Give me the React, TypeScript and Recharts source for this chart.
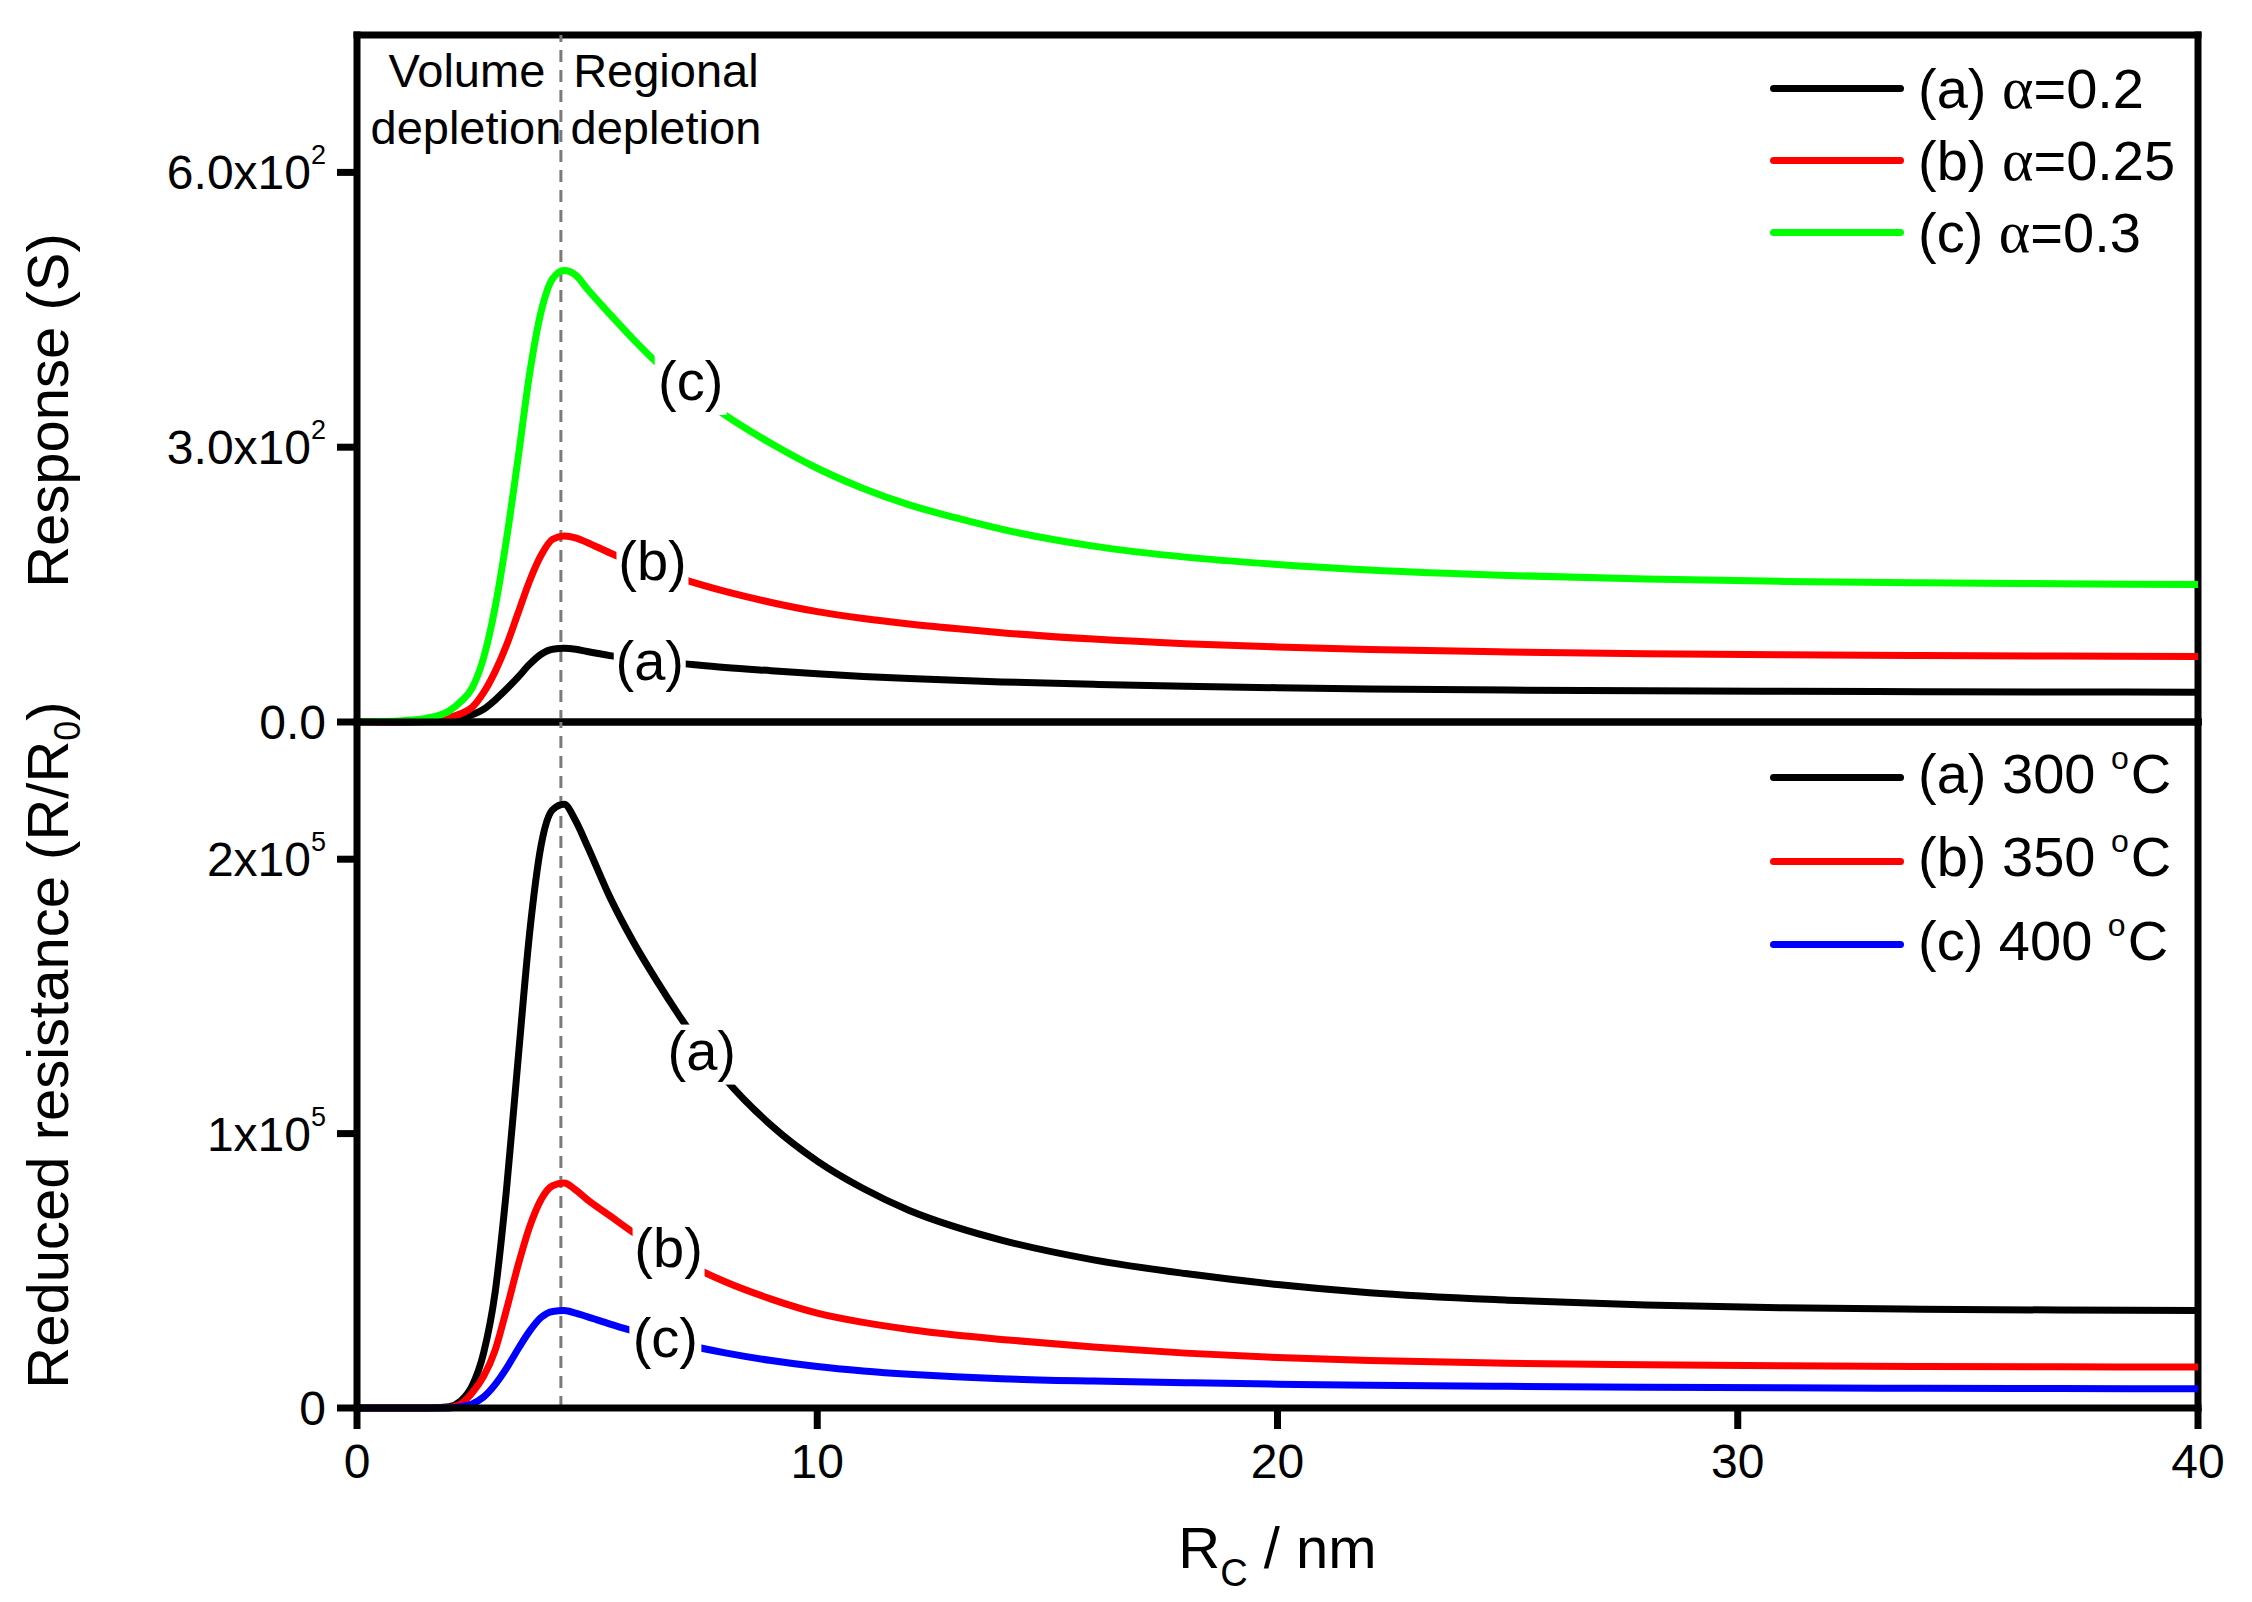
import React from 'react';
import { LineChart, Line, XAxis, YAxis, ReferenceLine, ReferenceDot, Legend } from 'recharts';

const FONT = "'Liberation Sans', Arial, Helvetica, sans-serif";
const SERIF = "'Liberation Serif', 'DejaVu Serif', 'Times New Roman', serif";

// R_C / nm
const rc = [0, 0.5, 1, 1.5, 2, 2.25, 2.5, 2.75, 3, 3.25, 3.5, 3.75, 4, 4.25, 4.5, 4.75, 5, 5.5, 6, 6.5, 7, 8, 9, 10, 11, 12, 13, 14, 16, 18, 20, 22, 25, 28, 31, 34, 37, 40];

// Response (S), top panel
const responseA = [0, 0, 0, 0.5, 1.5, 4, 8, 14, 24, 36, 49, 63, 74, 79.5, 80.5, 79.5, 77, 72.5, 69, 66.3, 64, 59.5, 56, 52.7, 49.8, 47.5, 45.5, 43.8, 41.2, 39, 37.4, 36.1, 34.8, 34, 33.5, 33.1, 32.8, 32.6];
const responseB = [0, 0, 0.5, 1.5, 5, 9, 16, 32, 55, 84, 119, 154, 182, 199.5, 203, 201, 196, 184.5, 174, 165, 157, 142.5, 130.5, 120.5, 113, 107, 102, 97.5, 90.5, 85.5, 82, 79.2, 76.5, 74.6, 73.3, 72.5, 72, 71.6];
const responseC = [0, 0.5, 1.5, 4, 12, 22, 37, 70, 125, 200, 288, 380, 448, 484, 493, 488, 473, 445, 418, 393, 372, 335, 304, 277, 255, 237, 223, 210.5, 192, 180, 172, 166, 160, 156, 153.5, 152, 151, 150];

// Reduced resistance (R/R0), bottom panel
const resistanceA = [0, 0, 0, 0, 500, 2500, 8000, 20000, 42000, 80000, 127000, 173000, 205000, 218000, 220000, 214000, 205000, 186000, 170000, 156000, 143000, 120000, 103000, 90000, 80000, 72000, 66000, 61200, 54000, 49000, 45000, 42000, 39300, 37500, 36500, 36000, 35700, 35500];
const resistanceB = [0, 0, 0, 0, 200, 1500, 5500, 11500, 21000, 36000, 52000, 66000, 76000, 81000, 82000, 79500, 76000, 70000, 64000, 58700, 54000, 46000, 39700, 34600, 31200, 28600, 26600, 25000, 22200, 20000, 18400, 17300, 16300, 15800, 15400, 15150, 15000, 14900];
const resistanceC = [0, 0, 0, 0, 0, 500, 1500, 4000, 8500, 14500, 21500, 28000, 33000, 35200, 35500, 34600, 33300, 30600, 28100, 25700, 23600, 20100, 17300, 15100, 13500, 12300, 11400, 10700, 9800, 9200, 8700, 8300, 7900, 7600, 7350, 7200, 7100, 7000];

const responseNames = ['(a) α=0.2', '(b) α=0.25', '(c) α=0.3'];
const resistanceNames = ['(a) 300 °C', '(b) 350 °C', '(c) 400 °C'];
const topColors = ['#000000', '#ff0000', '#00ff00'];
const bottomColors = ['#000000', '#ff0000', '#0000ff'];

const xTicks = [0, 10, 20, 30, 40];
const topTicks = [0, 300, 600];
const topTickMant = ['0.0', '3.0x10', '6.0x10'];
const topTickExp = ['', '2', '2'];
const bottomTicks = [0, 100000, 200000];
const bottomTickMant = ['0', '1x10', '2x10'];
const bottomTickExp = ['', '5', '5'];

const peakRc = 4.43;

const topCurveLabels = [
  { x: 6.36, y: 62, text: '(a)' },
  { x: 6.42, y: 171, text: '(b)' },
  { x: 7.25, y: 368, text: '(c)' },
];
const bottomCurveLabels = [
  { x: 7.49, y: 128800, text: '(a)' },
  { x: 6.77, y: 56700, text: '(b)' },
  { x: 6.7, y: 24000, text: '(c)' },
];

const topData = rc.map((r, i) => ({ rc: r, a: responseA[i], b: responseB[i], c: responseC[i] }));
const bottomData = rc.map((r, i) => ({ rc: r, a: resistanceA[i], b: resistanceB[i], c: resistanceC[i] }));

const frame = { stroke: '#000', strokeWidth: 7, strokeLinecap: 'square' as const };
const tickLineStyle = { stroke: '#000', strokeWidth: 7 };
const CURVE_W = 7;

const renderYTick = (vals: number[], mant: string[], exp: string[]) => (p: any) => {
  const i = vals.indexOf(p.payload.value);
  return (
    <text x={p.x} y={p.y + 17} textAnchor="end" fontSize={48} fill="#000" fontFamily={FONT}>
      <tspan>{mant[i]}</tspan>
      {exp[i] ? (
        <tspan dy={-25} fontSize={27}>
          {exp[i]}
        </tspan>
      ) : null}
    </text>
  );
};

const renderCurveLabel = (text: string) => (p: any) => (
  <g>
    <rect x={p.cx - 36} y={p.cy - 30} width={72} height={60} fill="#fff" />
    <text x={p.cx} y={p.cy + 15} textAnchor="middle" fontSize={56} fontFamily={FONT} fill="#000">
      {text}
    </text>
  </g>
);

const DepletionLabel = (props: any) => {
  const vb = props.viewBox || { x: 0, y: 0 };
  const x = vb.x;
  const y = vb.y;
  const common = { fontSize: 47, fontFamily: FONT, fill: '#000', textAnchor: 'middle' as const };
  return (
    <g>
      <text x={x - 94} y={y + 52} {...common}>Volume</text>
      <text x={x - 95} y={y + 109} {...common}>depletion</text>
      <text x={x + 105} y={y + 52} {...common}>Regional</text>
      <text x={x + 105} y={y + 109} {...common}>depletion</text>
    </g>
  );
};

const TopYTitle = (props: any) => {
  const vb = props.viewBox;
  const x = vb.x + vb.width - 289;
  const y = vb.y + vb.height / 2 + 32;
  return (
    <text x={x} y={y} transform={`rotate(-90, ${x}, ${y})`} textAnchor="middle" fontSize={58} fontFamily={FONT} fill="#000">
      Response (S)
    </text>
  );
};

const BottomYTitle = (props: any) => {
  const vb = props.viewBox;
  const x = vb.x + vb.width - 289;
  const y = vb.y + vb.height / 2 - 20;
  return (
    <text x={x} y={y} transform={`rotate(-90, ${x}, ${y})`} textAnchor="middle" fontSize={58} fontFamily={FONT} fill="#000">
      <tspan>Reduced resistance (R/R</tspan>
      <tspan dy={12} fontSize={36}>0</tspan>
      <tspan dy={-12}>)</tspan>
    </text>
  );
};

const XTitle = (props: any) => {
  const vb = props.viewBox;
  const x = vb.x + vb.width / 2;
  const y = vb.y + 160;
  return (
    <text x={x} y={y} textAnchor="middle" fontSize={58} fontFamily={FONT} fill="#000">
      <tspan>R</tspan>
      <tspan dy={18} fontSize={38}>C</tspan>
      <tspan dy={-18}> / nm</tspan>
    </text>
  );
};

const renderName = (name: string) => {
  if (name.includes('α')) {
    const [pre, post] = name.split('α');
    return (
      <>
        {pre}
        <span style={{ fontFamily: SERIF, fontSize: 60 }}>α</span>
        {post}
      </>
    );
  }
  if (name.includes('°')) {
    const [pre, post] = name.split('°');
    return (
      <>
        {pre}
        <span style={{ fontSize: 32, position: 'relative', top: -24, marginRight: 2 }}>o</span>
        {post}
      </>
    );
  }
  return name;
};

const makeLegend = (rowH: number) => (props: any) => {
  const payload = props.payload || [];
  return (
    <div style={{ fontFamily: FONT, fontSize: 56, color: '#000' }}>
      {payload.map((e: any) => (
        <div key={e.value} style={{ display: 'flex', alignItems: 'center', height: rowH }}>
          <div style={{ width: 134, height: 7, background: e.color, borderRadius: 4 }} />
          <span style={{ marginLeft: 14, whiteSpace: 'nowrap', lineHeight: `${rowH}px` }}>{renderName(String(e.value))}</span>
        </div>
      ))}
    </div>
  );
};

export default function App() {
  return (
    <div style={{ position: 'absolute', left: 0, top: 0, width: 2252, height: 1602, background: '#fff', fontFamily: FONT }}>
      <div style={{ position: 'absolute', left: 0, top: 0 }}>
        <LineChart width={2252} height={800} data={topData} margin={{ top: 35, right: 54, bottom: 78, left: 157 }} style={{ fontFamily: FONT }}>
          <XAxis dataKey="rc" type="number" domain={[0, 40]} ticks={xTicks} hide />
          <YAxis
            type="number"
            domain={[0, 750]}
            ticks={topTicks}
            width={200}
            interval={0}
            tickSize={20}
            tickMargin={11}
            tickLine={tickLineStyle}
            axisLine={frame}
            tick={renderYTick(topTicks, topTickMant, topTickExp)}
            label={(p: any) => <TopYTitle {...p} />}
          />
          <ReferenceLine y={750} {...frame} />
          <ReferenceLine x={40} {...frame} />
          <ReferenceLine y={0} {...frame} />
          <ReferenceLine x={peakRc} stroke="#7a7a7a" strokeWidth={3} strokeDasharray="12 8" label={(p: any) => <DepletionLabel {...p} />} />
          <Line type="monotone" dataKey="a" name={responseNames[0]} stroke={topColors[0]} strokeWidth={CURVE_W} dot={false} isAnimationActive={false} />
          <Line type="monotone" dataKey="b" name={responseNames[1]} stroke={topColors[1]} strokeWidth={CURVE_W} dot={false} isAnimationActive={false} />
          <Line type="monotone" dataKey="c" name={responseNames[2]} stroke={topColors[2]} strokeWidth={CURVE_W} dot={false} isAnimationActive={false} />
          {topCurveLabels.map((l) => (
            <ReferenceDot key={l.text} x={l.x} y={l.y} r={1} shape={renderCurveLabel(l.text)} />
          ))}
          <Legend
            layout="vertical"
            align="center"
            verticalAlign="middle"
            content={makeLegend(72)}
            wrapperStyle={{ left: 1770, top: 52, width: 'auto', height: 'auto' }}
          />
        </LineChart>
      </div>
      <div style={{ position: 'absolute', left: 0, top: 640 }}>
        <LineChart width={2252} height={962} data={bottomData} margin={{ top: 82, right: 54, bottom: 94, left: 157 }} style={{ fontFamily: FONT }}>
          <XAxis
            dataKey="rc"
            type="number"
            domain={[0, 40]}
            ticks={xTicks}
            interval={0}
            height={100}
            tickSize={21}
            tickMargin={15}
            tickLine={tickLineStyle}
            axisLine={frame}
            tick={{ fontSize: 48, fill: '#000', fontFamily: FONT }}
            label={(p: any) => <XTitle {...p} />}
          />
          <YAxis
            type="number"
            domain={[0, 250000]}
            ticks={bottomTicks}
            width={200}
            interval={0}
            tickSize={20}
            tickMargin={11}
            tickLine={tickLineStyle}
            axisLine={frame}
            tick={renderYTick(bottomTicks, bottomTickMant, bottomTickExp)}
            label={(p: any) => <BottomYTitle {...p} />}
          />
          <ReferenceLine y={250000} {...frame} />
          <ReferenceLine x={40} {...frame} />
          <ReferenceLine x={peakRc} stroke="#7a7a7a" strokeWidth={3} strokeDasharray="12 8" />
          <Line type="monotone" dataKey="a" name={resistanceNames[0]} stroke={bottomColors[0]} strokeWidth={CURVE_W} dot={false} isAnimationActive={false} />
          <Line type="monotone" dataKey="b" name={resistanceNames[1]} stroke={bottomColors[1]} strokeWidth={CURVE_W} dot={false} isAnimationActive={false} />
          <Line type="monotone" dataKey="c" name={resistanceNames[2]} stroke={bottomColors[2]} strokeWidth={CURVE_W} dot={false} isAnimationActive={false} />
          {bottomCurveLabels.map((l) => (
            <ReferenceDot key={l.text} x={l.x} y={l.y} r={1} shape={renderCurveLabel(l.text)} />
          ))}
          <Legend
            layout="vertical"
            align="center"
            verticalAlign="middle"
            content={makeLegend(83.5)}
            wrapperStyle={{ left: 1770, top: 96, width: 'auto', height: 'auto' }}
          />
        </LineChart>
      </div>
    </div>
  );
}
